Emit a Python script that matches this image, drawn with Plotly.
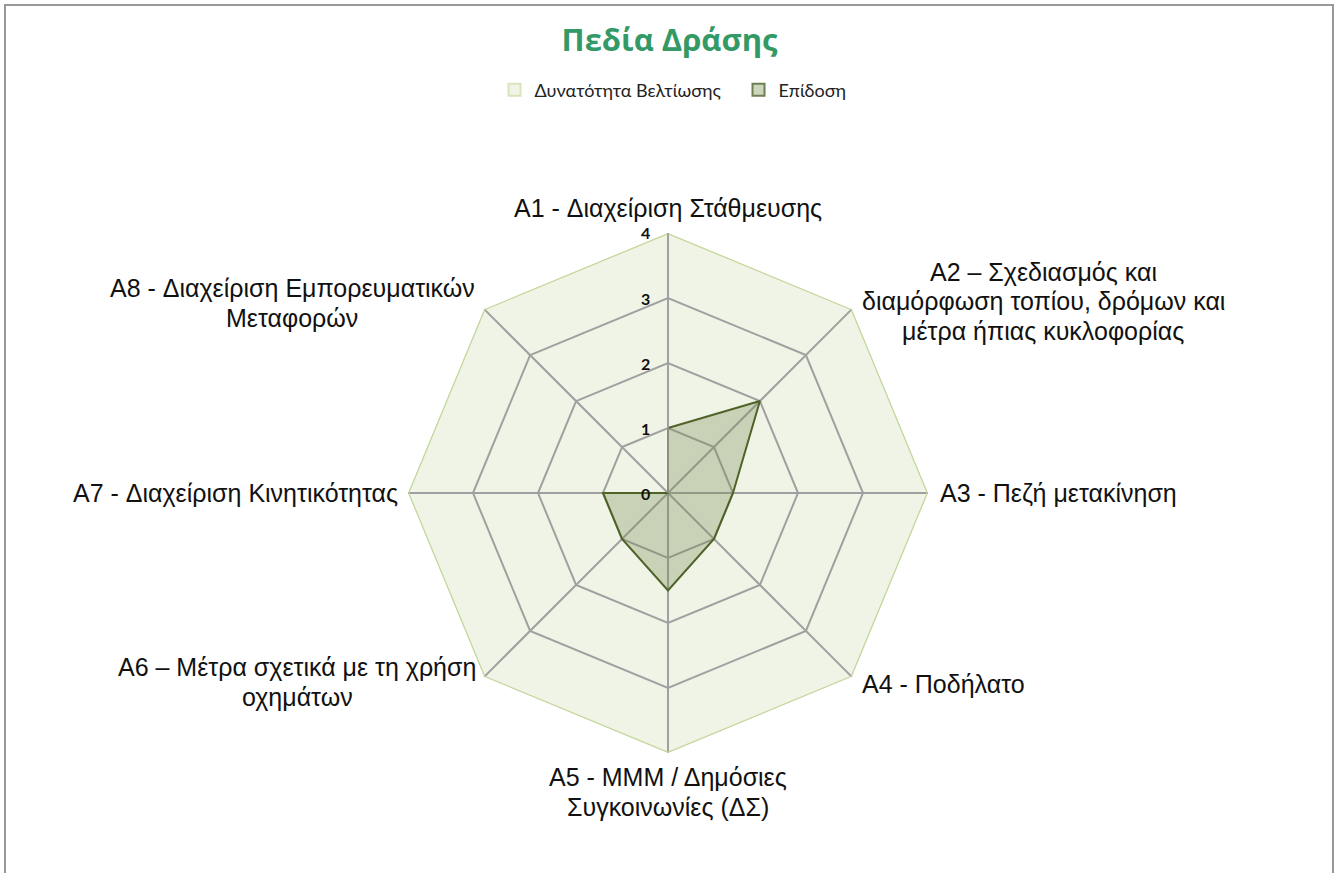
import plotly.graph_objects as go

categories = [
    "A1 - Διαχείριση Στάθμευσης",
    "A2 – Σχεδιασμός και<br>διαμόρφωση τοπίου, δρόμων και<br>μέτρα ήπιας κυκλοφορίας",
    "A3 - Πεζή μετακίνηση",
    "A4 - Ποδήλατο",
    "A5 - ΜΜΜ / Δημόσιες<br>Συγκοινωνίες (ΔΣ)",
    "A6 – Μέτρα σχετικά με τη χρήση<br>οχημάτων",
    "A7 - Διαχείριση Κινητικότητας",
    "A8 - Διαχείριση Εμπορευματικών<br>Μεταφορών",
]
keys = ["A1", "A2", "A3", "A4", "A5", "A6", "A7", "A8"]
potential = [4, 4, 4, 4, 4, 4, 4, 4]
performance = [1, 2, 1, 1, 1.5, 1, 1, 0]
radial_ticks = [0, 1, 2, 3, 4]
series_names = ["Δυνατότητα Βελτίωσης", "Επίδοση"]

W, H = 1339, 873
cx, cy, R = 668, 493, 260
RMAX = 4
BG_FILL = "#EFF4E6"
POT_LINE = "#C3D69B"
PERF_FILL = "rgba(120,140,80,0.32)"
PERF_LINE = "#4F6228"
GRID = "#A0A0A0"

fig = go.Figure()
# legend-only square icons
fig.add_trace(go.Barpolar(r=[0], theta=["A1"], name=series_names[0], legendrank=1,
                          marker=dict(color=BG_FILL, line=dict(color="#D8E4BC", width=1))))
fig.add_trace(go.Barpolar(r=[0], theta=["A1"], name=series_names[1], legendrank=2,
                          marker=dict(color="#CDD5BD", line=dict(color="#6F7F55", width=1))))

fig.add_trace(go.Scatterpolar(
    r=potential + potential[:1], theta=keys + keys[:1], name=series_names[0],
    mode="lines", line=dict(color=POT_LINE, width=2.5), showlegend=False, hoverinfo="skip",
))
fig.add_trace(go.Scatterpolar(
    r=performance + performance[:1], theta=keys + keys[:1], name=series_names[1],
    mode="lines", fill="toself", fillcolor=PERF_FILL,
    line=dict(color=PERF_LINE, width=2), showlegend=False,
))

fig.update_layout(
    width=W, height=H,
    paper_bgcolor="white", plot_bgcolor="white",
    margin=dict(l=0, r=0, t=0, b=0),
    title=dict(text="<b>Πεδία Δράσης</b>", x=0.5, xanchor="center", y=1 - 40 / H, yanchor="middle",
               font=dict(family="Open Sans", size=31, color="#339966")),
    legend=dict(orientation="h", x=0.5 + 69 / W, xanchor="center", y=1 - 90 / H, yanchor="middle",
                font=dict(family="Lato", size=18, color="#222"), itemwidth=30,
                entrywidth=199, entrywidthmode="pixels", itemsizing="constant"),
    polar=dict(
        domain=dict(x=[(cx - R) / W, (cx + R) / W], y=[(H - cy - R) / H, (H - cy + R) / H]),
        bgcolor=BG_FILL,
        gridshape="linear",
        bargap=0,
        angularaxis=dict(direction="clockwise", rotation=90, showticklabels=False,
                         gridcolor=GRID, gridwidth=1.5, showline=False, ticks=""),
        radialaxis=dict(range=[0, RMAX], tickvals=radial_ticks, angle=90,
                        showticklabels=False, gridcolor=GRID, gridwidth=1.5, showline=True,
                        linecolor=GRID, linewidth=1.5, ticks=""),
    ),
    showlegend=True,
)

# radial tick labels (horizontal, left of the vertical axis)
for v in radial_ticks:
    fig.add_annotation(text=f"<b>{v}</b>", x=(cx - 23) / W, y=1 - (cy - R * v / RMAX) / H,
                       xref="paper", yref="paper", xanchor="center", yanchor="middle",
                       showarrow=False, font=dict(family="Lato", size=16, color="#111"))

# category labels placed around the polygon (one annotation per text line)
label_pos = [
    (668, 208, "center"), (1043, 301, "center"), (938, 493, "left"), (860, 684, "left"),
    (668, 792, "center"), (297, 682, "center"), (400, 493, "right"), (292, 303, "center"),
]
LINE_GAP = 29.5
for cat, (x, y, a) in zip(categories, label_pos):
    lines = cat.split("<br>")
    n = len(lines)
    for i, ln in enumerate(lines):
        ly = y + (i - (n - 1) / 2) * LINE_GAP
        fig.add_annotation(text=ln, x=x / W, y=1 - ly / H, xref="paper", yref="paper",
                           xanchor=a, yanchor="middle", showarrow=False,
                           font=dict(family="Liberation Sans", size=25, color="#111"))

fig.add_shape(type="rect", xref="paper", yref="paper", x0=5 / W, x1=1333 / W, y0=-0.01, y1=1 - 5 / H,
              line=dict(color="#999999", width=2))

fig.write_html("out.html", config={"displayModeBar": False},
               post_script="document.body.style.margin='0';")
